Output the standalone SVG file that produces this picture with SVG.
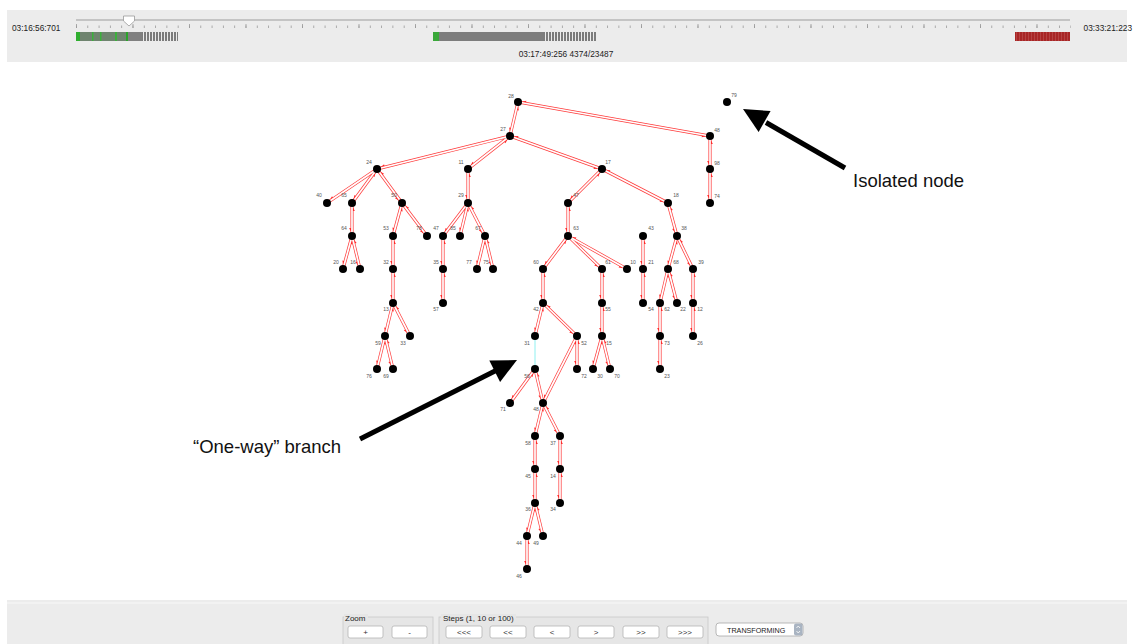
<svg xmlns="http://www.w3.org/2000/svg" xmlns:xlink="http://www.w3.org/1999/xlink" width="1134" height="644" viewBox="0 0 1134 644">
<style>
.ui{font-family:"Liberation Sans",Arial,sans-serif;fill:#222}
.lbl{font-family:"Liberation Sans",Arial,sans-serif;font-size:5px;fill:#555;text-anchor:middle}
.node circle{fill:#000}
.red{stroke:#ff3a3a;stroke-width:3.1;fill:none;marker-start:url(#ah);marker-end:url(#ah)}
.core{stroke:#fff;stroke-width:1.7;fill:none;marker-start:none;marker-end:none}
.btn{fill:#fff;stroke:#b4b4b4;stroke-width:0.8}
.btxt{font-family:"Liberation Sans",Arial,sans-serif;font-size:8px;fill:#333;text-anchor:middle}
.ann{font-family:"Liberation Sans",Arial,sans-serif;font-size:18.5px;fill:#111}
</style>
<defs>
<marker id="ah" markerUnits="userSpaceOnUse" markerWidth="12" markerHeight="12" refX="0" refY="0" orient="auto-start-reverse" overflow="visible">
<path d="M-4.4,1.2 L-8,-0.4 L-8,2.8 Z" fill="#ff2a2a"/>
</marker>
<pattern id="tk" x="76" y="0" width="11.3" height="10" patternUnits="userSpaceOnUse"><rect x="0" y="0" width="0.8" height="10" fill="#9a9a9a"/></pattern>
<pattern id="tkl" x="76" y="0" width="56.5" height="10" patternUnits="userSpaceOnUse"><rect x="0" y="0" width="0.8" height="10" fill="#9a9a9a"/></pattern>
<pattern id="sg" x="0" y="0" width="3" height="10" patternUnits="userSpaceOnUse"><rect width="2" height="10" fill="#7c7c7c"/></pattern>
<pattern id="sr" x="0" y="0" width="3" height="10" patternUnits="userSpaceOnUse"><rect width="2.2" height="10" fill="#a82626"/></pattern>
</defs>
<rect width="1134" height="644" fill="#fff"/>
<!-- top bar -->
<g id="topbar">
<rect x="7" y="10" width="1120" height="52" fill="#ececec"/>
<line x1="76" y1="20" x2="1070" y2="20" stroke="#c4c4c4" stroke-width="2"/>
<rect x="76" y="25.5" width="995" height="2.5" fill="url(#tk)"/>
<rect x="76" y="24" width="995" height="4" fill="url(#tkl)"/>
<path d="M123.5,16 h11 v5 l-5.5,5 l-5.5,-5 z" fill="#fff" stroke="#9a9a9a" stroke-width="0.8"/>
<rect x="76" y="32" width="51" height="9" fill="#6f846f"/>
<rect x="76" y="32" width="4" height="9" fill="#2fae2f"/>
<rect x="92" y="32" width="1.5" height="9" fill="#3cb03c"/>
<rect x="100" y="32" width="1.5" height="9" fill="#3cb03c"/>
<rect x="115" y="32" width="2" height="9" fill="#3cb03c"/>
<rect x="126" y="32" width="2" height="9" fill="#2aa52a"/>
<rect x="128" y="32" width="14" height="9" fill="#808080"/>
<rect x="142" y="32" width="36" height="9" fill="url(#sg)"/>
<rect x="433" y="32" width="110" height="9" fill="#7d7d7d"/>
<rect x="433" y="32" width="6" height="9" fill="#3aa83a"/>
<rect x="543" y="32" width="54" height="9" fill="url(#sg)"/>
<rect x="1015" y="32" width="55" height="9" fill="#b84848"/>
<rect x="1015" y="32" width="55" height="9" fill="url(#sr)"/>
<text class="ui" x="12" y="31" font-size="8.3">03:16:56:701</text>
<text class="ui" x="1132" y="31" font-size="8.3" text-anchor="end">03:33:21:223</text>
<text class="ui" x="566" y="57" font-size="8.3" text-anchor="middle">03:17:49:256 4374/23487</text>
</g>
<!-- connectors -->
<g id="edge-wrap">
<g class="red">
<g id="connectors">
<line x1="518" y1="102" x2="510" y2="136"/>
<line x1="518" y1="102" x2="710" y2="136"/>
<line x1="710" y1="136" x2="710" y2="169"/>
<line x1="710" y1="169" x2="710" y2="203"/>
<line x1="510" y1="136" x2="377" y2="169"/>
<line x1="510" y1="136" x2="468" y2="169"/>
<line x1="510" y1="136" x2="602" y2="169"/>
<line x1="377" y1="169" x2="327" y2="203"/>
<line x1="377" y1="169" x2="352" y2="203"/>
<line x1="377" y1="169" x2="402" y2="203"/>
<line x1="352" y1="203" x2="352" y2="236"/>
<line x1="352" y1="236" x2="343" y2="269"/>
<line x1="352" y1="236" x2="360" y2="269"/>
<line x1="402" y1="203" x2="393" y2="236"/>
<line x1="402" y1="203" x2="427" y2="236"/>
<line x1="393" y1="236" x2="393" y2="269"/>
<line x1="393" y1="269" x2="393" y2="303"/>
<line x1="393" y1="303" x2="385" y2="336"/>
<line x1="393" y1="303" x2="410" y2="336"/>
<line x1="385" y1="336" x2="377" y2="369"/>
<line x1="385" y1="336" x2="393" y2="369"/>
<line x1="468" y1="169" x2="468" y2="203"/>
<line x1="468" y1="203" x2="443" y2="236"/>
<line x1="468" y1="203" x2="460" y2="236"/>
<line x1="468" y1="203" x2="485" y2="236"/>
<line x1="443" y1="236" x2="443" y2="269"/>
<line x1="443" y1="269" x2="443" y2="303"/>
<line x1="485" y1="236" x2="477" y2="269"/>
<line x1="485" y1="236" x2="493" y2="269"/>
<line x1="602" y1="169" x2="568" y2="203"/>
<line x1="602" y1="169" x2="668" y2="203"/>
<line x1="568" y1="203" x2="568" y2="236"/>
<line x1="568" y1="236" x2="543" y2="269"/>
<line x1="568" y1="236" x2="602" y2="269"/>
<line x1="568" y1="236" x2="627" y2="269"/>
<line x1="543" y1="269" x2="543" y2="303"/>
<line x1="543" y1="303" x2="535" y2="336"/>
<line x1="543" y1="303" x2="577" y2="336"/>
<line x1="577" y1="336" x2="577" y2="369"/>
<line x1="577" y1="336" x2="543" y2="403"/>
<line x1="535" y1="369" x2="510" y2="403"/>
<line x1="535" y1="369" x2="543" y2="403"/>
<line x1="602" y1="269" x2="602" y2="303"/>
<line x1="602" y1="303" x2="602" y2="336"/>
<line x1="602" y1="336" x2="593" y2="369"/>
<line x1="602" y1="336" x2="610" y2="369"/>
<line x1="668" y1="203" x2="677" y2="236"/>
<line x1="643" y1="236" x2="643" y2="269"/>
<line x1="643" y1="269" x2="643" y2="303"/>
<line x1="677" y1="236" x2="668" y2="269"/>
<line x1="677" y1="236" x2="693" y2="269"/>
<line x1="668" y1="269" x2="660" y2="303"/>
<line x1="668" y1="269" x2="677" y2="303"/>
<line x1="660" y1="303" x2="660" y2="336"/>
<line x1="660" y1="336" x2="660" y2="369"/>
<line x1="693" y1="269" x2="693" y2="303"/>
<line x1="693" y1="303" x2="693" y2="336"/>
<line x1="543" y1="403" x2="535" y2="436"/>
<line x1="543" y1="403" x2="560" y2="436"/>
<line x1="535" y1="436" x2="535" y2="469"/>
<line x1="535" y1="469" x2="535" y2="503"/>
<line x1="535" y1="503" x2="527" y2="536"/>
<line x1="535" y1="503" x2="543" y2="536"/>
<line x1="527" y1="536" x2="527" y2="569"/>
<line x1="560" y1="436" x2="560" y2="469"/>
<line x1="560" y1="469" x2="560" y2="503"/>
</g>
</g>
<g class="core"><use href="#connectors" xlink:href="#connectors"/></g>
<line id="edge-31-56" x1="535" y1="336" x2="535" y2="369" stroke="#8ff0f0" stroke-width="1"/>
</g>
<!-- nodes -->
<g id="nodes">
<g id="n28" class="node"><circle cx="518" cy="102" r="4"/><text class="lbl" x="511" y="98">28</text></g>
<g id="n79" class="node"><circle cx="727" cy="102" r="4"/><text class="lbl" x="734" y="97">79</text></g>
<g id="n27" class="node"><circle cx="510" cy="136" r="4"/><text class="lbl" x="503" y="131">27</text></g>
<g id="n48a" class="node"><circle cx="710" cy="136" r="4"/><text class="lbl" x="717" y="132">48</text></g>
<g id="n98" class="node"><circle cx="710" cy="169" r="4"/><text class="lbl" x="717" y="165">98</text></g>
<g id="n74" class="node"><circle cx="710" cy="203" r="4"/><text class="lbl" x="717" y="198">74</text></g>
<g id="n24" class="node"><circle cx="377" cy="169" r="4"/><text class="lbl" x="369" y="164">24</text></g>
<g id="n11" class="node"><circle cx="468" cy="169" r="4"/><text class="lbl" x="461" y="164">11</text></g>
<g id="n17" class="node"><circle cx="602" cy="169" r="4"/><text class="lbl" x="608" y="164">17</text></g>
<g id="n40" class="node"><circle cx="327" cy="203" r="4"/><text class="lbl" x="319" y="197">40</text></g>
<g id="n65" class="node"><circle cx="352" cy="203" r="4"/><text class="lbl" x="344" y="197">65</text></g>
<g id="n50" class="node"><circle cx="402" cy="203" r="4"/><text class="lbl" x="394" y="197">50</text></g>
<g id="n29" class="node"><circle cx="468" cy="203" r="4"/><text class="lbl" x="461" y="197">29</text></g>
<g id="n47b" class="node"><circle cx="568" cy="203" r="4"/><text class="lbl" x="576" y="197">47</text></g>
<g id="n18" class="node"><circle cx="668" cy="203" r="4"/><text class="lbl" x="676" y="197">18</text></g>
<g id="n64" class="node"><circle cx="352" cy="236" r="4"/><text class="lbl" x="344" y="230">64</text></g>
<g id="n53" class="node"><circle cx="393" cy="236" r="4"/><text class="lbl" x="386" y="230">53</text></g>
<g id="n78" class="node"><circle cx="427" cy="236" r="4"/><text class="lbl" x="419" y="230">78</text></g>
<g id="n47a" class="node"><circle cx="443" cy="236" r="4"/><text class="lbl" x="436" y="230">47</text></g>
<g id="n85" class="node"><circle cx="460" cy="236" r="4"/><text class="lbl" x="453" y="230">85</text></g>
<g id="n67" class="node"><circle cx="485" cy="236" r="4"/><text class="lbl" x="478" y="230">67</text></g>
<g id="n63" class="node"><circle cx="568" cy="236" r="4"/><text class="lbl" x="576" y="230">63</text></g>
<g id="n43" class="node"><circle cx="643" cy="236" r="4"/><text class="lbl" x="651" y="230">43</text></g>
<g id="n38" class="node"><circle cx="677" cy="236" r="4"/><text class="lbl" x="684" y="230">38</text></g>
<g id="n20" class="node"><circle cx="343" cy="269" r="4"/><text class="lbl" x="336" y="264">20</text></g>
<g id="n16" class="node"><circle cx="360" cy="269" r="4"/><text class="lbl" x="353" y="264">16</text></g>
<g id="n32" class="node"><circle cx="393" cy="269" r="4"/><text class="lbl" x="386" y="264">32</text></g>
<g id="n35" class="node"><circle cx="443" cy="269" r="4"/><text class="lbl" x="436" y="264">35</text></g>
<g id="n77" class="node"><circle cx="477" cy="269" r="4"/><text class="lbl" x="469" y="264">77</text></g>
<g id="n75" class="node"><circle cx="493" cy="269" r="4"/><text class="lbl" x="486" y="264">75</text></g>
<g id="n60" class="node"><circle cx="543" cy="269" r="4"/><text class="lbl" x="536" y="264">60</text></g>
<g id="n61" class="node"><circle cx="602" cy="269" r="4"/><text class="lbl" x="608" y="264">61</text></g>
<g id="n10" class="node"><circle cx="627" cy="269" r="4"/><text class="lbl" x="633" y="264">10</text></g>
<g id="n21" class="node"><circle cx="643" cy="269" r="4"/><text class="lbl" x="651" y="264">21</text></g>
<g id="n68" class="node"><circle cx="668" cy="269" r="4"/><text class="lbl" x="676" y="264">68</text></g>
<g id="n39" class="node"><circle cx="693" cy="269" r="4"/><text class="lbl" x="701" y="264">39</text></g>
<g id="n13" class="node"><circle cx="393" cy="303" r="4"/><text class="lbl" x="386" y="311">13</text></g>
<g id="n57" class="node"><circle cx="443" cy="303" r="4"/><text class="lbl" x="436" y="311">57</text></g>
<g id="n42" class="node"><circle cx="543" cy="303" r="4"/><text class="lbl" x="536" y="311">42</text></g>
<g id="n55" class="node"><circle cx="602" cy="303" r="4"/><text class="lbl" x="608" y="311">55</text></g>
<g id="n54" class="node"><circle cx="643" cy="303" r="4"/><text class="lbl" x="651" y="311">54</text></g>
<g id="n62" class="node"><circle cx="660" cy="303" r="4"/><text class="lbl" x="667" y="311">62</text></g>
<g id="n22" class="node"><circle cx="677" cy="303" r="4"/><text class="lbl" x="683" y="311">22</text></g>
<g id="n12" class="node"><circle cx="693" cy="303" r="4"/><text class="lbl" x="700" y="311">12</text></g>
<g id="n59" class="node"><circle cx="385" cy="336" r="4"/><text class="lbl" x="378" y="345">59</text></g>
<g id="n33" class="node"><circle cx="410" cy="336" r="4"/><text class="lbl" x="403" y="345">33</text></g>
<g id="n31" class="node"><circle cx="535" cy="336" r="4"/><text class="lbl" x="527" y="345">31</text></g>
<g id="n52" class="node"><circle cx="577" cy="336" r="4"/><text class="lbl" x="584" y="345">52</text></g>
<g id="n15" class="node"><circle cx="602" cy="336" r="4"/><text class="lbl" x="609" y="345">15</text></g>
<g id="n73" class="node"><circle cx="660" cy="336" r="4"/><text class="lbl" x="667" y="345">73</text></g>
<g id="n26" class="node"><circle cx="693" cy="336" r="4"/><text class="lbl" x="700" y="345">26</text></g>
<g id="n76" class="node"><circle cx="377" cy="369" r="4"/><text class="lbl" x="369" y="378">76</text></g>
<g id="n69" class="node"><circle cx="393" cy="369" r="4"/><text class="lbl" x="386" y="378">69</text></g>
<g id="n56" class="node"><circle cx="535" cy="369" r="4"/><text class="lbl" x="527" y="378">56</text></g>
<g id="n72" class="node"><circle cx="577" cy="369" r="4"/><text class="lbl" x="584" y="378">72</text></g>
<g id="n30" class="node"><circle cx="593" cy="369" r="4"/><text class="lbl" x="600" y="378">30</text></g>
<g id="n70" class="node"><circle cx="610" cy="369" r="4"/><text class="lbl" x="617" y="378">70</text></g>
<g id="n23" class="node"><circle cx="660" cy="369" r="4"/><text class="lbl" x="667" y="378">23</text></g>
<g id="n71" class="node"><circle cx="510" cy="403" r="4"/><text class="lbl" x="503" y="411">71</text></g>
<g id="n48b" class="node"><circle cx="543" cy="403" r="4"/><text class="lbl" x="536" y="411">48</text></g>
<g id="n58" class="node"><circle cx="535" cy="436" r="4"/><text class="lbl" x="528" y="445">58</text></g>
<g id="n37" class="node"><circle cx="560" cy="436" r="4"/><text class="lbl" x="553" y="445">37</text></g>
<g id="n45" class="node"><circle cx="535" cy="469" r="4"/><text class="lbl" x="528" y="478">45</text></g>
<g id="n14" class="node"><circle cx="560" cy="469" r="4"/><text class="lbl" x="553" y="478">14</text></g>
<g id="n36" class="node"><circle cx="535" cy="503" r="4"/><text class="lbl" x="528" y="511">36</text></g>
<g id="n34" class="node"><circle cx="560" cy="503" r="4"/><text class="lbl" x="553" y="511">34</text></g>
<g id="n44" class="node"><circle cx="527" cy="536" r="4"/><text class="lbl" x="519" y="545">44</text></g>
<g id="n49" class="node"><circle cx="543" cy="536" r="4"/><text class="lbl" x="536" y="545">49</text></g>
<g id="n46" class="node"><circle cx="527" cy="569" r="4"/><text class="lbl" x="519" y="578">46</text></g>
</g>
<!-- annotations -->
<g id="annot-isolated">
<line x1="845" y1="168" x2="766" y2="122.5" stroke="#000" stroke-width="5"/>
<polygon points="743,109 770.6,111.1 758.6,131.9" fill="#000"/>
<text class="ann" x="853" y="187">Isolated node</text>
</g>
<g id="annot-oneway">
<line x1="360" y1="439" x2="496" y2="370.5" stroke="#000" stroke-width="5"/>
<polygon points="517,360 489.3,360.5 500.1,381.9" fill="#000"/>
<text class="ann" x="193" y="453">“One-way” branch</text>
</g>
<!-- bottom toolbar -->
<g id="toolbar">
<rect x="7" y="600" width="1120" height="44" fill="#ececec"/>
<line x1="7" y1="603" x2="1127" y2="603" stroke="#f8f8f8" stroke-width="1"/>
<rect x="343" y="617" width="90" height="32" fill="#e6e6e6" stroke="#c8c8c8" stroke-width="0.8"/>
<rect x="344" y="614" width="24" height="7" fill="#e6e6e6"/>
<text class="ui" x="345" y="621" font-size="8">Zoom</text>
<rect class="btn" x="348" y="626" width="35" height="12" rx="2"/>
<text class="btxt" x="365.5" y="635">+</text>
<rect class="btn" x="392" y="626" width="35" height="12" rx="2"/>
<text class="btxt" x="409.5" y="635">-</text>
<rect x="439" y="617" width="269" height="32" fill="#e6e6e6" stroke="#c8c8c8" stroke-width="0.8"/>
<rect x="441" y="614" width="75" height="7" fill="#e6e6e6"/>
<text class="ui" x="443" y="621" font-size="8">Steps (1, 10 or 100)</text>
<rect class="btn" x="446" y="626" width="36" height="12" rx="2"/>
<text class="btxt" x="464" y="635">&lt;&lt;&lt;</text>
<rect class="btn" x="490" y="626" width="36" height="12" rx="2"/>
<text class="btxt" x="508" y="635">&lt;&lt;</text>
<rect class="btn" x="534" y="626" width="36" height="12" rx="2"/>
<text class="btxt" x="552" y="635">&lt;</text>
<rect class="btn" x="578" y="626" width="36" height="12" rx="2"/>
<text class="btxt" x="596" y="635">&gt;</text>
<rect class="btn" x="623" y="626" width="36" height="12" rx="2"/>
<text class="btxt" x="641" y="635">&gt;&gt;</text>
<rect class="btn" x="667" y="626" width="36" height="12" rx="2"/>
<text class="btxt" x="685" y="635">&gt;&gt;&gt;</text>
<rect x="716" y="623" width="87" height="13" rx="3" fill="#fff" stroke="#a8a8a8" stroke-width="0.8"/>
<rect x="794" y="623.5" width="8.5" height="12" rx="2" fill="#a9b4c2"/>
<path d="M796.5,628 l1.75,-2 l1.75,2 M796.5,631 l1.75,2 l1.75,-2" stroke="#fff" stroke-width="0.8" fill="none"/>
<text class="ui" x="727" y="632.5" font-size="7.2">TRANSFORMING</text>
</g>
</svg>
